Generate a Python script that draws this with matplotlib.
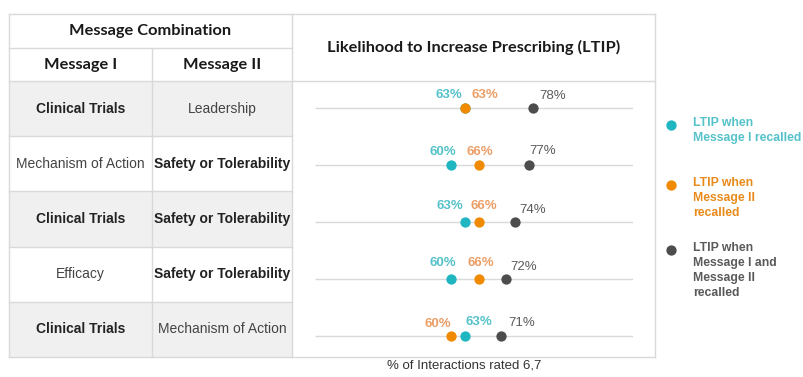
import matplotlib
matplotlib.use("Agg")
import matplotlib.pyplot as plt
from matplotlib.patches import Rectangle

# message pairs and the LTIP values for each pair
message_1 = ["Clinical Trials", "Mechanism of Action", "Clinical Trials",
             "Efficacy", "Clinical Trials"]
message_2 = ["Leadership", "Safety or Tolerability", "Safety or Tolerability",
             "Safety or Tolerability", "Mechanism of Action"]
ltip_msg1 = [63, 60, 63, 60, 63]
ltip_msg2 = [63, 66, 66, 66, 60]
ltip_both = [78, 77, 74, 72, 71]

legend_labels = ["LTIP when\nMessage I recalled",
                 "LTIP when\nMessage II\nrecalled",
                 "LTIP when\nMessage I and\nMessage II\nrecalled"]

# which table cells are set in bold
bold_1 = [True, False, True, False, True]
bold_2 = [False, True, True, True, False]

# label nudges (pixels) so the value labels do not collide
nudge_msg1 = [(-16, 13), (-8, 13), (-15, 16), (-8, 16), (14, 14)]
nudge_msg2 = [(20, 13), (1, 13), (5, 16), (2, 16), (-13, 12)]
nudge_both = [(20, 12), (14, 14), (18, 12), (18, 12), (20, 13)]

CYAN, ORANGE, GRAY = "#1FB5C1", "#F08A00", "#4D4D4D"
CYAN_TXT, ORANGE_TXT, GRAY_TXT = "#55C2CA", "#EC9E66", "#5A5A5A"
LINE = "#D9D9D9"
SHADE = "#F0F0F0"
BODY = ["Liberation Sans", "DejaVu Sans"]
HEAD = ["Lato", "DejaVu Sans"]

W, H = 804, 377
fig = plt.figure(figsize=(W / 100, H / 100), dpi=100)
fig.patch.set_facecolor("white")

# background axes in pixel units for the table
ax = fig.add_axes([0, 0, 1, 1])
ax.set_xlim(0, W)
ax.set_ylim(H, 0)
ax.axis("off")

left, col2, col3, right = 9, 152, 292, 655
top, head1, head2, bottom = 14, 48, 81, 357
n = len(message_1)
row_h = (bottom - head2) / n

for i in range(n):
    y0 = head2 + i * row_h
    if i % 2 == 0:
        ax.add_patch(Rectangle((left, y0), col3 - left, row_h,
                               facecolor=SHADE, edgecolor="none"))
    yc = y0 + row_h / 2
    ax.text((left + col2) / 2, yc, message_1[i], ha="center", va="center",
            fontsize=10, family=BODY, color="#222222" if bold_1[i] else "#444444",
            fontweight="bold" if bold_1[i] else "normal")
    ax.text((col2 + col3) / 2, yc, message_2[i], ha="center", va="center",
            fontsize=10, family=BODY, color="#222222" if bold_2[i] else "#444444",
            fontweight="bold" if bold_2[i] else "normal")
    if i > 0:
        ax.plot([left, col3], [y0, y0], color=LINE, lw=1)

# table rules
ax.plot([left, right], [top, top], color=LINE, lw=1)
ax.plot([left, right], [bottom, bottom], color=LINE, lw=1)
ax.plot([left, col3], [head1, head1], color=LINE, lw=1)
ax.plot([left, right], [head2, head2], color=LINE, lw=1)
for x in (left, col3, right):
    ax.plot([x, x], [top, bottom], color=LINE, lw=1)
ax.plot([col2, col2], [head1, bottom], color=LINE, lw=1)

ax.text((left + col3) / 2, (top + head1) / 2, "Message Combination",
        ha="center", va="center", fontsize=11.8, family=HEAD,
        fontweight="bold", color="#1A1A1A")
ax.text((left + col2) / 2, (head1 + head2) / 2, "Message I",
        ha="center", va="center", fontsize=11.8, family=HEAD,
        fontweight="bold", color="#1A1A1A")
ax.text((col2 + col3) / 2, (head1 + head2) / 2, "Message II",
        ha="center", va="center", fontsize=11.8, family=HEAD,
        fontweight="bold", color="#1A1A1A")
ax.text((col3 + right) / 2, (top + head2) / 2,
        "Likelihood to Increase Prescribing (LTIP)",
        ha="center", va="center", fontsize=11.8, family=HEAD,
        fontweight="bold", color="#1A1A1A")
ax.text(464, 366, "% of Interactions rated 6,7", ha="center", va="center",
        fontsize=9.5, family=BODY, color="#333333")

# dot plot
x0, x1 = 315, 633
y_top, y_bot = 79.5, 364.5
dax = fig.add_axes([x0 / W, (H - y_bot) / H, (x1 - x0) / W, (y_bot - y_top) / H])
dax.set_xlim(30, 100)
dax.set_ylim(n - 0.5, -0.5)
dax.axis("off")
dax.patch.set_alpha(0)

rows = list(range(n))
dax.hlines(rows, 30, 100, color=LINE, lw=1, zorder=1)
dax.scatter(ltip_msg1, rows, s=55, color=CYAN, zorder=3, linewidths=0)
dax.scatter(ltip_msg2, rows, s=55, color=ORANGE, zorder=3, linewidths=0)
dax.scatter(ltip_both, rows, s=55, color=GRAY, zorder=3, linewidths=0)

for vals, nudges, col, wt in [(ltip_msg1, nudge_msg1, CYAN_TXT, "bold"),
                              (ltip_msg2, nudge_msg2, ORANGE_TXT, "bold"),
                              (ltip_both, nudge_both, GRAY_TXT, "normal")]:
    for r, (v, off) in enumerate(zip(vals, nudges)):
        dax.annotate(f"{v}%", (v, r), xytext=off, textcoords="offset pixels",
                     ha="center", va="center", fontsize=9.5, family=BODY,
                     color=col, fontweight=wt)

# legend
legend_dots = [125, 185, 250]
for lab, yd, col, tcol in zip(legend_labels, legend_dots,
                              [CYAN, ORANGE, GRAY],
                              [CYAN_TXT, "#E88A1A", GRAY_TXT]):
    ax.scatter([671], [yd], s=55, color=col, linewidths=0)
    ax.text(693, yd - 8, lab, ha="left", va="top", fontsize=8.8,
            family=BODY, fontweight="bold", color=tcol, linespacing=1.35)

fig.savefig("out.png", dpi=100, facecolor="white")
